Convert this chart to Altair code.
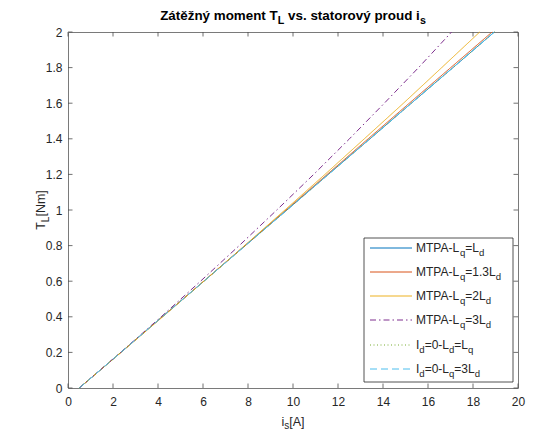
import altair as alt
import pandas as pd

# ---------------- data ----------------
T_vals = [0.0, 0.2, 0.4, 0.6, 0.8, 1.0, 1.2, 1.4, 1.6, 1.8, 2.0]
is_mtpa_1 = [0.50, 2.35, 4.19, 6.04, 7.88, 9.73, 11.57, 13.42, 15.26, 17.11, 18.95]
is_mtpa_13 = [0.50, 2.35, 4.19, 6.03, 7.86, 9.69, 11.52, 13.34, 15.17, 17.01, 18.85]
is_mtpa_2 = [0.50, 2.36, 4.21, 6.04, 7.85, 9.64, 11.42, 13.17, 14.91, 16.61, 18.30]
is_mtpa_3 = [0.50, 2.34, 4.14, 5.89, 7.61, 9.28, 10.92, 12.51, 14.06, 15.58, 17.05]
is_id0_1 = [0.50, 2.35, 4.19, 6.04, 7.88, 9.73, 11.57, 13.42, 15.26, 17.11, 18.95]
is_id0_3 = [0.50, 2.35, 4.19, 6.04, 7.88, 9.73, 11.57, 13.42, 15.26, 17.11, 18.95]

series_values = [is_mtpa_1, is_mtpa_13, is_mtpa_2, is_mtpa_3, is_id0_1, is_id0_3]
series_colors = ["#0072BD", "#D95319", "#EDB120", "#7E2F8E", "#77AC30", "#4DBEEE"]
series_dashes = [[1, 0], [1, 0], [1, 0], [6, 3, 1.5, 3], [1, 2.5], [7, 4]]
# legend labels: (text, is_subscript)
legend_labels = [
    [("MTPA-L", 0), ("q", 1), ("=L", 0), ("d", 1)],
    [("MTPA-L", 0), ("q", 1), ("=1.3L", 0), ("d", 1)],
    [("MTPA-L", 0), ("q", 1), ("=2L", 0), ("d", 1)],
    [("MTPA-L", 0), ("q", 1), ("=3L", 0), ("d", 1)],
    [("I", 0), ("d", 1), ("=0-L", 0), ("d", 1), ("=L", 0), ("q", 1)],
    [("I", 0), ("d", 1), ("=0-L", 0), ("q", 1), ("=3L", 0), ("d", 1)],
]
title_parts = [("Zátěžný moment T", 0), ("L", 1), (" vs. statorový proud i", 0), ("s", 1)]
xtitle_parts = [("i", 0), ("s", 1), ("[A]", 0)]
ytitle_parts = [("T", 0), ("L", 1), ("[Nm]", 0)]

x_ticks = [0, 2, 4, 6, 8, 10, 12, 14, 16, 18, 20]
y_ticks = [0, 0.2, 0.4, 0.6, 0.8, 1.0, 1.2, 1.4, 1.6, 1.8, 2.0]

# ---------------- layout ----------------
W, H = 450, 356
FONT = "Liberation Sans"
TXT = "#262626"
BOX = "#7a7a7a"

REG = {' ': 278, 'A': 667, 'I': 278, 'L': 556, 'M': 833, 'N': 722, 'P': 667, 'T': 611,
       '[': 278, ']': 278, '-': 333, '=': 584, '.': 278, 'd': 556, 'i': 222, 'm': 833,
       'q': 556, 's': 500}
BOLD = {' ': 278, 'Z': 611, 'T': 611, 'L': 611, 'á': 556, 'a': 556, 't': 333, 'ě': 556,
        'ž': 500, 'n': 611, 'ý': 556, 'm': 889, 'o': 611, 'e': 556, 'v': 556, 's': 556,
        '.': 278, 'r': 389, 'p': 611, 'u': 611, 'd': 611, 'i': 278, 'y': 556}


def text_width(s, size, bold):
    tbl = BOLD if bold else REG
    return sum(tbl.get(c, 556) for c in s) * size / 1000.0


ONE = alt.Data(values=[{}])


def rich(parts, x0, y0, size, bold=False, anchor="left", angle=0, sub_scale=0.8,
         sub_shift=3.5, color=TXT):
    sizes = [size * sub_scale if sub else size for _, sub in parts]
    widths = [text_width(t, s, bold) for (t, _), s in zip(parts, sizes)]
    total = sum(widths)
    pos = -total / 2 if anchor == "center" else 0.0
    out = []
    for (t, sub), sz, w in zip(parts, sizes, widths):
        shift = sub_shift if sub else 0
        stripped = t.lstrip(" ")
        lead = text_width(t[: len(t) - len(stripped)], sz, bold)
        p = pos + lead
        if angle == 0:
            px, py = x0 + p, y0 + shift
        else:
            px, py = x0 + shift, y0 - p
        out.append(
            alt.Chart(ONE).mark_text(
                text=stripped, align="left", baseline="alphabetic", fontSize=sz, font=FONT,
                fontWeight="bold" if bold else "normal", color=color, angle=angle
            ).encode(x=alt.value(px), y=alt.value(py))
        )
        pos += w
    return out


X_AXIS = alt.Axis(values=x_ticks, title=None, grid=False, domain=False, ticks=False,
                  tickSize=0, labelFontSize=12, labelColor=TXT, labelFont=FONT,
                  labelPadding=8, labelFlush=False, format="~g")
Y_AXIS = alt.Axis(values=y_ticks, title=None, grid=False, domain=False, ticks=False,
                  tickSize=0, labelFontSize=12, labelColor=TXT, labelFont=FONT,
                  labelPadding=6, labelFlush=False, format="~g")
X_ENC = alt.X("i:Q", scale=alt.Scale(domain=[0, 20], nice=False), axis=X_AXIS)
Y_ENC = alt.Y("T:Q", scale=alt.Scale(domain=[0, 2], nice=False), axis=Y_AXIS)

layers = []
# data lines
for vals, col, dash in zip(series_values, series_colors, series_dashes):
    df = pd.DataFrame({"i": vals, "T": T_vals})
    layers.append(
        alt.Chart(df).mark_line(color=col, strokeDash=dash, strokeWidth=1).encode(
            x=X_ENC, y=Y_ENC, order="T:Q")
    )

# inward ticks on all four sides
xt = pd.DataFrame({"i": x_ticks})
yt = pd.DataFrame({"T": y_ticks})
TL = 4.5
layers.append(alt.Chart(xt).mark_rule(color="#4d4d4d", strokeWidth=0.8).encode(
    x=X_ENC, y=alt.value(H), y2=alt.value(H - TL)))
layers.append(alt.Chart(xt).mark_rule(color="#4d4d4d", strokeWidth=0.8).encode(
    x=X_ENC, y=alt.value(0), y2=alt.value(TL)))
layers.append(alt.Chart(yt).mark_rule(color="#4d4d4d", strokeWidth=0.8).encode(
    y=Y_ENC, x=alt.value(0), x2=alt.value(TL)))
layers.append(alt.Chart(yt).mark_rule(color="#4d4d4d", strokeWidth=0.8).encode(
    y=Y_ENC, x=alt.value(W), x2=alt.value(W - TL)))

# legend box
LX0, LX1, LY0, LY1 = 296, 445, 206, 350
layers.append(alt.Chart(ONE).mark_rect(fill="white", stroke="#262626", strokeWidth=0.8).encode(
    x=alt.value(LX0), x2=alt.value(LX1), y=alt.value(LY0), y2=alt.value(LY1)))
row_y = [216, 240, 264, 288, 313, 337]
for ry, col, dash, lab in zip(row_y, series_colors, series_dashes, legend_labels):
    layers.append(alt.Chart(ONE).mark_rule(color=col, strokeDash=dash, strokeWidth=1).encode(
        x=alt.value(302), x2=alt.value(344), y=alt.value(ry)))
    layers += rich(lab, 348, ry + 4, 12, sub_shift=3.5)

# titles
layers += rich(title_parts, W / 2, -12, 13.4, bold=True, anchor="center", color="#000000",
               sub_shift=3.5)
layers += rich(xtitle_parts, W / 2, 394, 12.5, anchor="center", sub_shift=3)
layers += rich(ytitle_parts, -23, 178, 12.5, anchor="center", angle=270, sub_shift=3.5)

chart = alt.layer(*layers).properties(
    width=W, height=H,
    autosize=alt.AutoSizeParams(type="none"),
    padding={"left": 60, "top": 24, "right": 12, "bottom": 43},
).configure_view(stroke=BOX, strokeWidth=1)

chart.save("out.html", embed_options={"renderer": "svg", "actions": False})
